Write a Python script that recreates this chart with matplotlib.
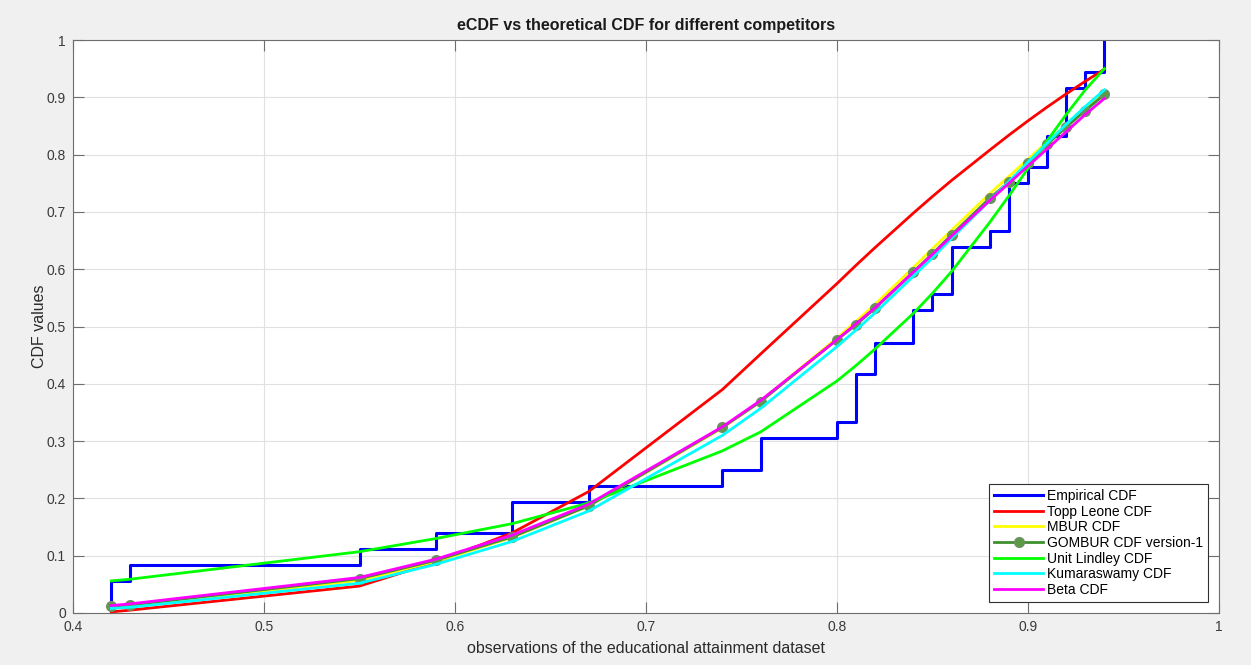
import matplotlib
matplotlib.use('Agg')
import matplotlib.pyplot as plt

plt.rcParams['font.family'] = ['Liberation Sans', 'DejaVu Sans']

# empirical CDF steps of the educational attainment data (n = 36)
ecdf_x = [0.42, 0.42, 0.43, 0.55, 0.59, 0.63, 0.67, 0.74, 0.76, 0.80, 0.81,
          0.82, 0.84, 0.85, 0.86, 0.88, 0.89, 0.90, 0.91, 0.92, 0.93, 0.94, 0.94]
ecdf_y = [0.0, 0.056, 0.083, 0.111, 0.139, 0.194, 0.222, 0.250, 0.306, 0.333, 0.417,
          0.472, 0.528, 0.556, 0.639, 0.667, 0.750, 0.778, 0.833, 0.917, 0.944, 1.0, 1.0]

# unique observations where the fitted CDFs are evaluated
obs = [0.42, 0.43, 0.55, 0.59, 0.63, 0.67, 0.74, 0.76, 0.80, 0.81, 0.82,
       0.84, 0.85, 0.86, 0.88, 0.89, 0.90, 0.91, 0.92, 0.93, 0.94]

topp_leone = [0.002, 0.005, 0.047, 0.089, 0.14, 0.212, 0.39, 0.452, 0.575, 0.607, 0.638,
              0.698, 0.727, 0.755, 0.808, 0.834, 0.859, 0.883, 0.906, 0.928, 0.949]
mbur = [0.010, 0.012, 0.057, 0.090, 0.132, 0.187, 0.323, 0.370, 0.480, 0.509, 0.539,
        0.603, 0.636, 0.668, 0.732, 0.762, 0.792, 0.822, 0.852, 0.881, 0.908]
gombur = [0.012, 0.014, 0.060, 0.092, 0.133, 0.187, 0.324, 0.369, 0.477, 0.503, 0.532,
          0.595, 0.627, 0.660, 0.724, 0.752, 0.785, 0.818, 0.848, 0.877, 0.905]
unit_lindley = [0.056, 0.059, 0.107, 0.130, 0.156, 0.192, 0.283, 0.316, 0.405, 0.432, 0.461,
                0.523, 0.558, 0.596, 0.682, 0.728, 0.776, 0.824, 0.870, 0.913, 0.950]
kumaraswamy = [0.008, 0.010, 0.052, 0.085, 0.125, 0.178, 0.310, 0.357, 0.465, 0.494, 0.524,
               0.588, 0.620, 0.654, 0.720, 0.753, 0.787, 0.820, 0.853, 0.884, 0.913]
beta = [0.013, 0.016, 0.062, 0.094, 0.136, 0.190, 0.325, 0.371, 0.477, 0.505, 0.533,
        0.595, 0.626, 0.658, 0.720, 0.750, 0.780, 0.810, 0.840, 0.870, 0.898]

fig = plt.figure(figsize=(12.51, 6.65), dpi=100, facecolor='#f0f0f0')
ax = fig.add_axes([0.0584, 0.0782, 0.916, 0.8616])

ax.step(ecdf_x, ecdf_y, where='post', color='#0000ff', lw=2.2, label='Empirical CDF')
ax.plot(obs, topp_leone, color='#ff0000', lw=2, label='Topp Leone CDF')
ax.plot(obs, mbur, color='#ffff00', lw=2, label='MBUR CDF')
ax.plot(obs, gombur, color='#3f8f2f', lw=2, marker='o', markersize=7,
        markerfacecolor='#5c9a48', markeredgecolor='#6f8f66', label='GOMBUR CDF version-1')
ax.plot(obs, unit_lindley, color='#00ff00', lw=2, label='Unit Lindley CDF')
ax.plot(obs, kumaraswamy, color='#00ffff', lw=2, label='Kumaraswamy CDF')
ax.plot(obs, beta, color='#ff00ff', lw=2, label='Beta CDF')

ax.set_xlim(0.4, 1)
ax.set_ylim(0, 1)
xt = [0.4, 0.5, 0.6, 0.7, 0.8, 0.9, 1.0]
yt = [0, 0.1, 0.2, 0.3, 0.4, 0.5, 0.6, 0.7, 0.8, 0.9, 1.0]
ax.set_xticks(xt)
ax.set_xticklabels(['0.4', '0.5', '0.6', '0.7', '0.8', '0.9', '1'])
ax.set_yticks(yt)
ax.set_yticklabels(['0', '0.1', '0.2', '0.3', '0.4', '0.5', '0.6', '0.7', '0.8', '0.9', '1'])
ax.tick_params(direction='in', length=8, width=0.8, colors='#6e6e6e', labelcolor='#3a3a3a',
               labelsize=10, top=True, right=True, pad=5)
for sp in ax.spines.values():
    sp.set_color('#6e6e6e')
    sp.set_linewidth(0.8)
ax.grid(True, color='#e1e1e1', lw=0.8)
ax.set_axisbelow(True)

ax.set_title('eCDF vs theoretical CDF for different competitors', fontsize=11.5,
             fontweight='bold', color='#1a1a1a', pad=7)
ax.set_xlabel('observations of the educational attainment dataset', fontsize=11.5,
              color='#2a2a2a', labelpad=5)
ax.set_ylabel('CDF values', fontsize=11.5, color='#2a2a2a', labelpad=0)

leg = ax.legend(loc='lower right', fontsize=10, fancybox=False, framealpha=1,
                edgecolor='#303030', handlelength=3.5, labelspacing=0.12,
                borderaxespad=0.8, borderpad=0.35, handletextpad=0.3)
leg.get_frame().set_linewidth(0.8)

fig.savefig('out.png', dpi=100, facecolor=fig.get_facecolor())
